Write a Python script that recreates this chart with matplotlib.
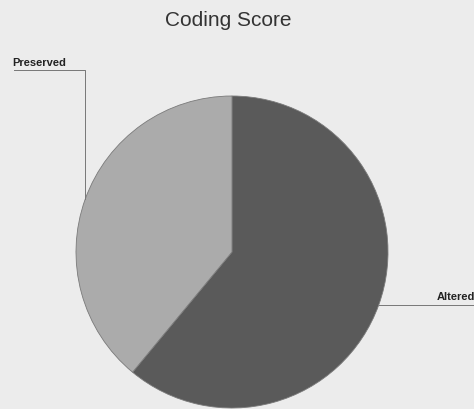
import numpy as np
import matplotlib
matplotlib.use("Agg")
import matplotlib.pyplot as plt

title = "Coding Score"
categories = ["Altered", "Preserved"]
values = [61, 39]
colors = ["#5a5a5a", "#ababab"]

plt.rcParams['font.family'] = ['Liberation Sans', 'DejaVu Sans']

W, H = 474, 410
fig = plt.figure(figsize=(W / 100, H / 100), dpi=100)
fig.patch.set_facecolor("#ececec")
ax = fig.add_axes([0, 0, 1, 1])

cx, cy, r = 232, H - 253, 156
wedges, _ = ax.pie(values, colors=colors, startangle=90, counterclock=False,
                   center=(cx, cy), radius=r, frame=True,
                   wedgeprops=dict(edgecolor="#7a7a7a", linewidth=0.6))
ax.set_xlim(0, W)
ax.set_ylim(0, H)
ax.set_aspect("equal")
ax.axis("off")

ax.text(228, H - 21, title, ha="center", va="center", fontsize=15, color="#333333")

line_kw = dict(color="#777777", lw=0.7)
for w, lab in zip(wedges, categories):
    mid = np.deg2rad((w.theta1 + w.theta2) / 2)
    ex, ey = cx + r * np.cos(mid), cy + r * np.sin(mid)
    if np.cos(mid) > 0:
        ax.plot([ex, W], [ey, ey], **line_kw)
        ax.text(W + 1, ey + 4, lab, ha="right", va="bottom", fontsize=8,
                fontweight="bold", color="#222222")
    else:
        top = H - 71
        ax.plot([ex, ex, 14], [ey, top, top], **line_kw)
        ax.text(12, top + 3, lab, ha="left", va="bottom", fontsize=8,
                fontweight="bold", color="#222222")

fig.savefig("out.png", dpi=100, facecolor=fig.get_facecolor())
